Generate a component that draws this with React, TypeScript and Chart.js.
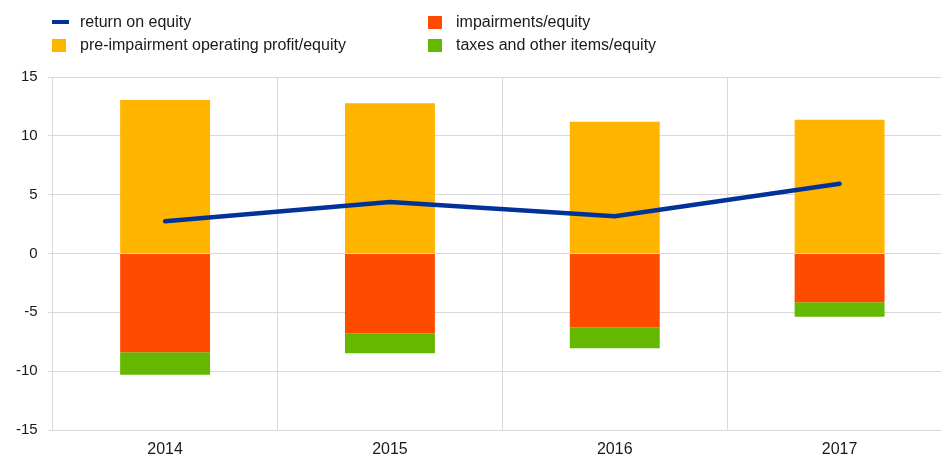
import React, { useEffect, useRef } from "react";
import { Chart, registerables } from "chart.js";

Chart.register(...registerables);

const categories = ["2014", "2015", "2016", "2017"];
const preImpairment = [13.05, 12.76, 11.19, 11.36];
const impairments = [-8.39, -6.78, -6.27, -4.15];
const taxes = [-1.92, -1.69, -1.78, -1.22];
const roe = [2.74, 4.37, 3.16, 5.93];

const FONT = '"Liberation Sans", Arial, sans-serif';
const BLUE = "#003299";
const YELLOW = "#FFB400";
const RED = "#FF4B00";
const GREEN = "#65B800";
const GRID = "#d9d9d9";
const TEXT = "#1a1a1a";

const legendItems = [
  { label: "return on equity", color: BLUE, x: 52, y: 22, line: true },
  { label: "pre-impairment operating profit/equity", color: YELLOW, x: 52, y: 45, line: false },
  { label: "impairments/equity", color: RED, x: 428, y: 22, line: false },
  { label: "taxes and other items/equity", color: GREEN, x: 428, y: 45, line: false },
];

export default function App() {
  const ref = useRef<HTMLCanvasElement | null>(null);

  useEffect(() => {
    if (!ref.current) return;
    const chart = new Chart(ref.current, {
      type: "bar",
      data: {
        labels: categories,
        datasets: [
          {
            type: "line",
            label: "return on equity",
            data: roe,
            borderColor: BLUE,
            backgroundColor: BLUE,
            borderWidth: 4.5,
            pointRadius: 0,
            fill: false,
            borderCapStyle: "round",
            stack: "roe",
            order: 0,
          } as any,
          {
            label: "pre-impairment operating profit/equity",
            data: preImpairment,
            backgroundColor: YELLOW,
            stack: "bars",
            order: 1,
          },
          {
            label: "impairments/equity",
            data: impairments,
            backgroundColor: RED,
            stack: "bars",
            order: 1,
          },
          {
            label: "taxes and other items/equity",
            data: taxes,
            backgroundColor: GREEN,
            stack: "bars",
            order: 1,
          },
        ],
      },
      options: {
        animation: false,
        responsive: false,
        devicePixelRatio: 1,
        layout: { padding: { left: 16, top: 77, right: 0, bottom: 0 } },
        datasets: { bar: { categoryPercentage: 1, barPercentage: 0.4 } },
        plugins: { legend: { display: false }, tooltip: { enabled: false } },
        scales: {
          x: {
            stacked: true,
            grid: { color: GRID, drawTicks: false, offset: true },
            border: { color: GRID },
            ticks: { color: TEXT, font: { family: FONT, size: 16 }, padding: 10 },
            afterFit: (scale: any) => {
              scale.height = 27;
            },
          },
          y: {
            stacked: true,
            min: -15,
            max: 15,
            grid: { color: GRID, tickLength: 5 },
            border: { color: GRID },
            ticks: {
              stepSize: 5,
              color: TEXT,
              font: { family: FONT, size: 15 },
              padding: 10,
            },
            afterFit: (scale: any) => {
              scale.width = 36.7;
            },
          },
        },
      },
    });
    return () => chart.destroy();
  }, []);

  return (
    <div
      style={{
        position: "fixed",
        left: 0,
        top: 0,
        width: 941,
        height: 457,
        overflow: "hidden",
        background: "#fff",
      }}
    >
      <canvas ref={ref} width={952} height={457} style={{ position: "absolute", left: 0, top: 0, width: 952, height: 457 }} />
      {legendItems.map((it) => (
        <div key={it.label}>
          <div
            style={{
              position: "absolute",
              left: it.x,
              top: it.line ? it.y - 2 : it.y - 6.5,
              width: it.line ? 17 : 14,
              height: it.line ? 4 : 13,
              background: it.color,
            }}
          />
          <div
            style={{
              position: "absolute",
              left: it.x + 28,
              top: it.y - 10,
              height: 20,
              lineHeight: "20px",
              fontFamily: FONT,
              fontSize: 16,
              color: TEXT,
              whiteSpace: "nowrap",
            }}
          >
            {it.label}
          </div>
        </div>
      ))}
    </div>
  );
}
